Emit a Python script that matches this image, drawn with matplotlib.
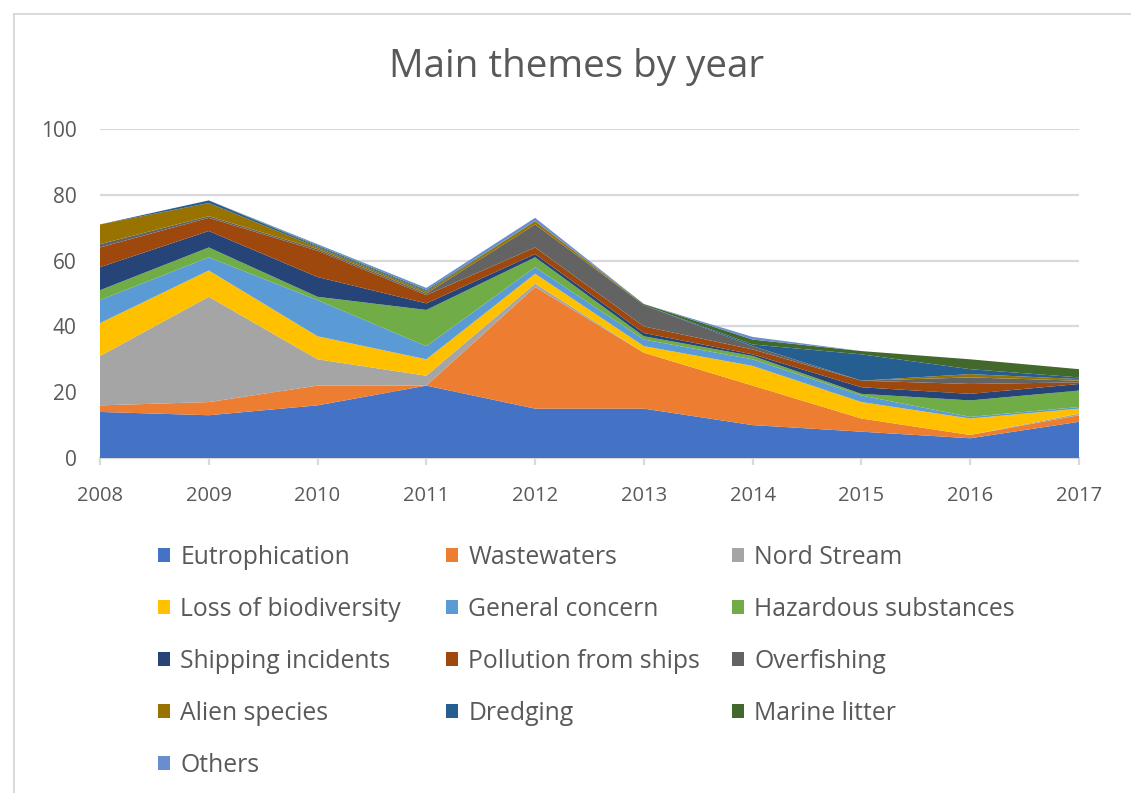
import matplotlib
matplotlib.use("Agg")
import matplotlib.pyplot as plt
from matplotlib.patches import Patch
from matplotlib.lines import Line2D

years = [2008, 2009, 2010, 2011, 2012, 2013, 2014, 2015, 2016, 2017]

eutrophication = [14, 13, 16, 22, 15, 15, 10, 8, 6, 11]
wastewaters = [2, 4, 6, 0, 37, 17, 12, 4, 1, 2]
nord_stream = [15, 32, 8, 3, 1, 0, 0, 0, 0, 0.5]
loss_of_biodiversity = [10, 8, 7, 5, 3, 2, 6, 5, 5, 1.5]
general_concern = [7, 4, 11, 4, 2, 2, 2, 2, 0.5, 0.5]
hazardous_substances = [3, 3, 1, 11, 3, 1, 1, 0.5, 5, 5]
shipping_incidents = [7, 5, 6, 2, 1, 1, 0.5, 2, 2, 2]
pollution_from_ships = [6, 4, 8, 2.5, 2, 2, 1.5, 2, 3, 0.5]
overfishing = [1, 0.5, 0.5, 0.5, 7, 6.5, 1, 0, 2, 0.5]
alien_species = [6, 4, 0.5, 0.5, 1, 0, 0, 0, 1, 0.5]
dredging = [0, 0.8, 0.3, 0.3, 0, 0, 0.5, 8, 1.5, 0.5]
marine_litter = [0, 0, 0.3, 0.3, 0, 0.3, 1.5, 1, 3, 2.5]
others = [0, 0, 0.4, 0.6, 1, 0, 0.8, 0, 0, 0]

labels = ["Eutrophication", "Wastewaters", "Nord Stream", "Loss of biodiversity",
          "General concern", "Hazardous substances", "Shipping incidents",
          "Pollution from ships", "Overfishing", "Alien species", "Dredging",
          "Marine litter", "Others"]
series = [eutrophication, wastewaters, nord_stream, loss_of_biodiversity,
          general_concern, hazardous_substances, shipping_incidents,
          pollution_from_ships, overfishing, alien_species, dredging,
          marine_litter, others]
colors = ["#4472C4", "#ED7D31", "#A5A5A5", "#FFC000", "#5B9BD5", "#70AD47",
          "#264478", "#9E480E", "#636363", "#997300", "#255E91", "#43682B",
          "#698ED0"]

text_color = "#595959"
grid_color = "#D9D9D9"
plt.rcParams["font.family"] = ["Open Sans", "DejaVu Sans"]

fig = plt.figure(figsize=(11.31, 7.93), dpi=100)
W, H = 1131, 793
ax = fig.add_axes([100 / W, 1 - 458 / H, (1079 - 100) / W, (458 - 129) / H])

ax.stackplot(years, *series, colors=colors, labels=labels, linewidth=0)

ax.set_xlim(2008, 2017)
ax.set_ylim(0, 100)
ax.set_xticks(years)
ax.set_yticks([0, 20, 40, 60, 80, 100])
ax.yaxis.grid(True, color=grid_color, linewidth=1.6)
ax.set_axisbelow(True)
for side in ["top", "right", "left"]:
    ax.spines[side].set_visible(False)
ax.spines["bottom"].set_color(grid_color)
ax.spines["bottom"].set_linewidth(1.6)
ax.spines["bottom"].set_zorder(0.5)
ax.tick_params(axis="x", colors=grid_color, length=5, width=1.6,
               labelcolor=text_color, labelsize=14.5, pad=15)
ax.tick_params(axis="y", length=0, labelcolor=text_color, labelsize=15, pad=17)

fig.text(577 / W, 1 - 67 / H, "Main themes by year", ha="center", va="center",
         fontsize=27.8, color=text_color)

# legend: three columns filled row by row
ncols = 3
col_x = [158, 446, 732]
for c in range(ncols):
    idx = list(range(c, len(labels), ncols))
    handles = [Patch(facecolor=colors[i], edgecolor="none") for i in idx]
    fig.legend(handles, [labels[i] for i in idx], ncol=1, frameon=False,
               loc="upper left", bbox_to_anchor=(col_x[c] / W, 1 - 545 / H),
               fontsize=17.8, labelcolor=text_color, handlelength=0.5,
               handleheight=0.5, handletextpad=0.4, labelspacing=1.09,
               borderaxespad=0, borderpad=0)

# chart border
fig.add_artist(Line2D([14 / W, 14 / W], [0, 1 - 14 / H], color=grid_color,
                      linewidth=1.4, transform=fig.transFigure))
fig.add_artist(Line2D([14 / W, 1], [1 - 14 / H, 1 - 14 / H], color=grid_color,
                      linewidth=1.4, transform=fig.transFigure))

fig.savefig("out.png", dpi=100, facecolor="white")
